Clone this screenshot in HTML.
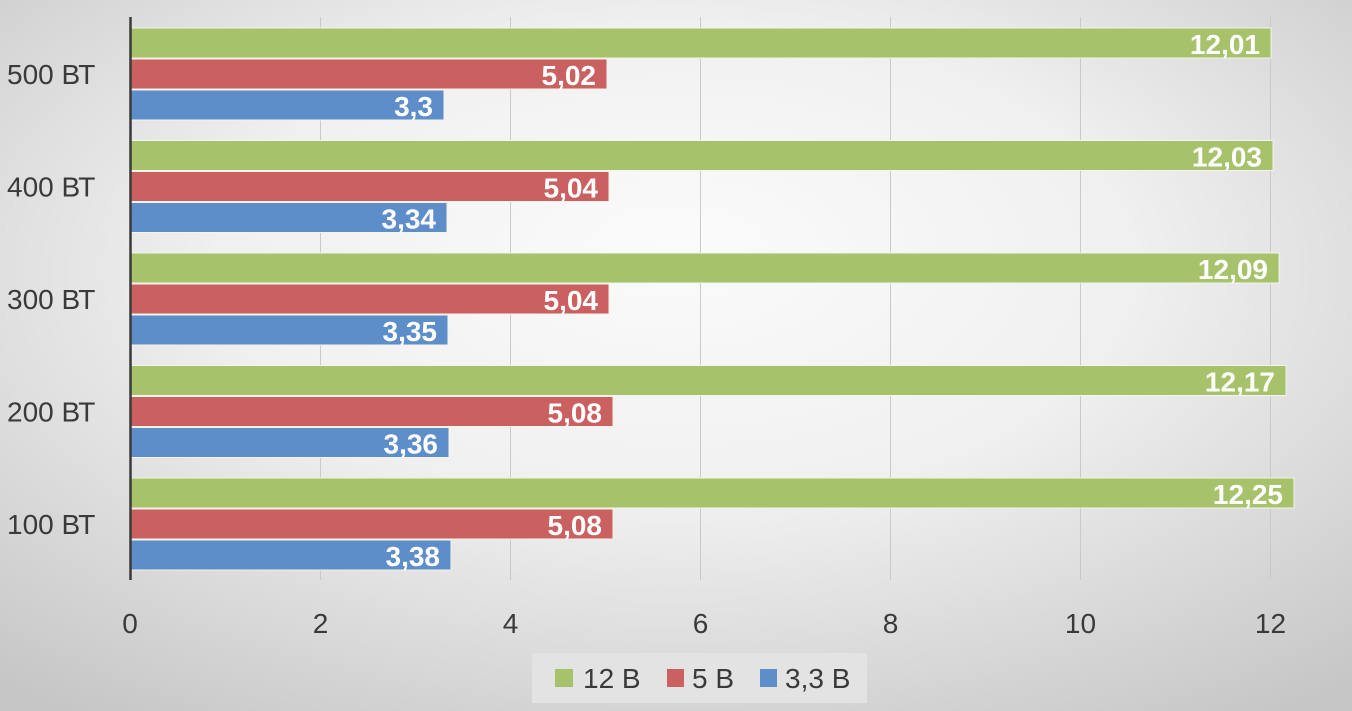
<!DOCTYPE html>
<html>
<head>
<meta charset="utf-8">
<style>
  html, body { margin: 0; padding: 0; }
  body { width: 1352px; height: 711px; overflow: hidden; }
  svg { display: block; }
  text { font-family: "Liberation Sans", "DejaVu Sans", sans-serif; }
</style>
</head>
<body>
<svg width="1352" height="711" viewBox="0 0 1352 711" xmlns="http://www.w3.org/2000/svg">
  <defs>
    <radialGradient id="bg" cx="50%" cy="40%" r="75%" fx="50%" fy="35%">
      <stop offset="0%" stop-color="#fbfbfb"/>
      <stop offset="45%" stop-color="#f0f0f0"/>
      <stop offset="100%" stop-color="#c6c6c6"/>
    </radialGradient>
  </defs>
  <rect x="0" y="0" width="1352" height="711" fill="url(#bg)"/>

  <!-- gridlines -->
  <g stroke="#c9c9c9" stroke-width="1">
    <line x1="320.5" y1="17" x2="320.5" y2="580"/>
    <line x1="510.5" y1="17" x2="510.5" y2="580"/>
    <line x1="700.5" y1="17" x2="700.5" y2="580"/>
    <line x1="890.5" y1="17" x2="890.5" y2="580"/>
    <line x1="1080.5" y1="17" x2="1080.5" y2="580"/>
    <line x1="1270.5" y1="17" x2="1270.5" y2="580"/>
  </g>

  <!-- bars -->
  <g stroke="#f4f4e8" stroke-width="1">
    <!-- 500 -->
    <rect x="131" y="28" width="1140" height="30" fill="#a6c26a"/>
    <rect x="131" y="59" width="476" height="30" fill="#cb6060"/>
    <rect x="131" y="90" width="313" height="30" fill="#5e8ec9"/>
    <!-- 400 -->
    <rect x="131" y="140.5" width="1142" height="30" fill="#a6c26a"/>
    <rect x="131" y="171.5" width="478" height="30" fill="#cb6060"/>
    <rect x="131" y="202.5" width="316" height="30" fill="#5e8ec9"/>
    <!-- 300 -->
    <rect x="131" y="253" width="1148" height="30" fill="#a6c26a"/>
    <rect x="131" y="284" width="478" height="30" fill="#cb6060"/>
    <rect x="131" y="315" width="317" height="30" fill="#5e8ec9"/>
    <!-- 200 -->
    <rect x="131" y="365.5" width="1155" height="30" fill="#a6c26a"/>
    <rect x="131" y="396.5" width="482" height="30" fill="#cb6060"/>
    <rect x="131" y="427.5" width="318" height="30" fill="#5e8ec9"/>
    <!-- 100 -->
    <rect x="131" y="478" width="1163" height="30" fill="#a6c26a"/>
    <rect x="131" y="509" width="482" height="30" fill="#cb6060"/>
    <rect x="131" y="540" width="320" height="30" fill="#5e8ec9"/>
  </g>

  <!-- axis -->
  <line x1="130.5" y1="17" x2="130.5" y2="580" stroke="#3a3a3a" stroke-width="2.5"/>

  <!-- data labels -->
  <g fill="#ffffff" font-weight="bold" font-size="28" text-anchor="end">
    <text x="1260" y="54">12,01</text>
    <text x="596" y="85">5,02</text>
    <text x="433" y="116">3,3</text>

    <text x="1262" y="166.5">12,03</text>
    <text x="598" y="197.5">5,04</text>
    <text x="436" y="228.5">3,34</text>

    <text x="1268" y="279">12,09</text>
    <text x="598" y="310">5,04</text>
    <text x="437" y="341">3,35</text>

    <text x="1275" y="391.5">12,17</text>
    <text x="602" y="422.5">5,08</text>
    <text x="438" y="453.5">3,36</text>

    <text x="1283" y="504">12,25</text>
    <text x="602" y="535">5,08</text>
    <text x="440" y="566">3,38</text>
  </g>

  <!-- category labels -->
  <g fill="#3a3a3a" font-size="28">
    <text x="7" y="84">500 ВТ</text>
    <text x="7" y="196.5">400 ВТ</text>
    <text x="7" y="309">300 ВТ</text>
    <text x="7" y="421.5">200 ВТ</text>
    <text x="7" y="534">100 ВТ</text>
  </g>

  <!-- tick labels -->
  <g fill="#3a3a3a" font-size="28" text-anchor="middle">
    <text x="130" y="633">0</text>
    <text x="320.5" y="633">2</text>
    <text x="510.5" y="633">4</text>
    <text x="700.5" y="633">6</text>
    <text x="890.5" y="633">8</text>
    <text x="1080.5" y="633">10</text>
    <text x="1270.5" y="633">12</text>
  </g>

  <!-- legend -->
  <rect x="532" y="653" width="335" height="50" fill="#e3e3e3"/>
  <rect x="555" y="669" width="18" height="18" fill="#a6c26a"/>
  <text x="583" y="688" fill="#3a3a3a" font-size="28">12 В</text>
  <rect x="667" y="669" width="17" height="18" fill="#cb6060"/>
  <text x="692" y="688" fill="#3a3a3a" font-size="28">5 В</text>
  <rect x="760" y="669" width="17" height="18" fill="#5e8ec9"/>
  <text x="785" y="688" fill="#3a3a3a" font-size="28">3,3 В</text>
</svg>
</body>
</html>
